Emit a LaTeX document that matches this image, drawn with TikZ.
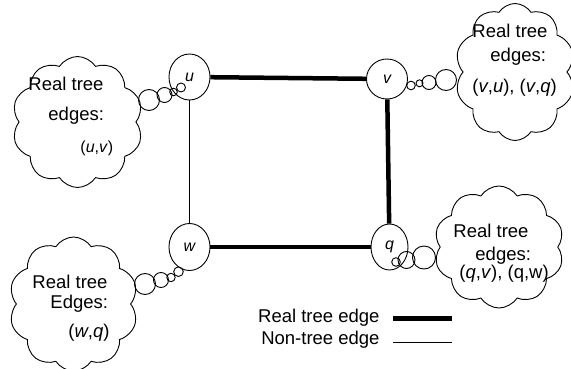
\documentclass[tikz,border=0pt]{standalone}
\usepackage{fontspec}
\setmainfont{Liberation Sans}
\usetikzlibrary{shapes.geometric,shapes.symbols}

\tikzset{
  vertex/.style={draw,ellipse,inner sep=0pt,minimum width=41pt,minimum height=46pt,font=\fontsize{16}{16}\selectfont\itshape},
  thought/.style={draw,cloud,cloud puffs=10,cloud puff arc=115,inner sep=0pt},
  treeedge/.style={line width=4.5pt},
  nontree/.style={line width=0.8pt},
  txt/.style={font=\fontsize{18.5}{19}\selectfont,inner sep=0pt,anchor=base west},
}

\begin{document}
\begin{tikzpicture}[x=1pt,y=-1pt,line width=0.9pt]
\useasboundingbox (0,0) rectangle (571,369);

\node[thought,minimum width=131pt,minimum height=131pt] (cu) at (77.5,122) {};
\node[thought,minimum width=120pt,minimum height=137pt] (cv) at (515,72) {};
\node[thought,minimum width=130pt,minimum height=122pt] (cq) at (499,247) {};
\node[thought,minimum width=129pt,minimum height=134pt] (cw) at (73.5,304) {};

\node[vertex] (u) at (189.5,77) {u};
\node[vertex,minimum height=40pt] (v) at (387,79) {v};
\node[vertex,minimum height=47pt] (w) at (189.5,247) {w};
\node[vertex,minimum width=37pt] (q) at (389.5,247) {q};

\draw[treeedge] (u) -- (v);
\draw[treeedge] (v) -- (q);
\draw[treeedge] (w) -- (q);
\draw[nontree] (u) -- (w);

% thought bubbles
\foreach \x/\y/\r in {149/100/10.5, 164.5/95/7.5, 173.5/92/3.8, 181/87.5/4.5,
                      411/85.5/4.3, 419.5/83.3/3.5, 429/82.5/7, 446/80/10.5,
                      396/262/4.3, 406.5/260/8.5, 424/257.5/11.5,
                      145/284/10.5, 161/280/7.5, 171/277.5/4.2, 178.5/271.7/4.8}
  \draw (\x,\y) circle[radius=\r pt];

\node[txt] (cu1) at (28,91) {Real tree};
\node[txt] (cu2) at (48,121) {edges:};
\node[txt,font=\fontsize{16}{16}\selectfont] (cu3) at (80,153) {(\textit{u},\textit{v})};

\node[txt] (cv1) at (472,38) {Real tree};
\node[txt] (cv2) at (490,62) {edges:};
\node[txt] (cv3) at (472,93) {(\textit{v},\textit{u}), (\textit{v},\textit{q})};

\node[txt] (cq1) at (453,237) {Real tree};
\node[txt] (cq2) at (475,260) {edges:};
\node[txt] (cq3) at (459,278) {(\textit{q},\textit{v}), (q,w)};

\node[txt] (cw1) at (32,288) {Real tree};
\node[txt] (cw2) at (50,308) {Edges:};
\node[txt] (cw3) at (68,337) {(\textit{w},\textit{q})};

% legend
\node[txt,anchor=base east] (l1) at (380,322) {Real tree edge};
\node[txt,anchor=base east] (l2) at (380,344) {Non-tree edge};
\coordinate (t1) at (393,318.5);
\coordinate (t2) at (452,318.5);
\coordinate (n1) at (393,342);
\coordinate (n2) at (452,342);
\draw[treeedge] (t1) -- (t2);
\draw[nontree] (n1) -- (n2);
\end{tikzpicture}
\end{document}
